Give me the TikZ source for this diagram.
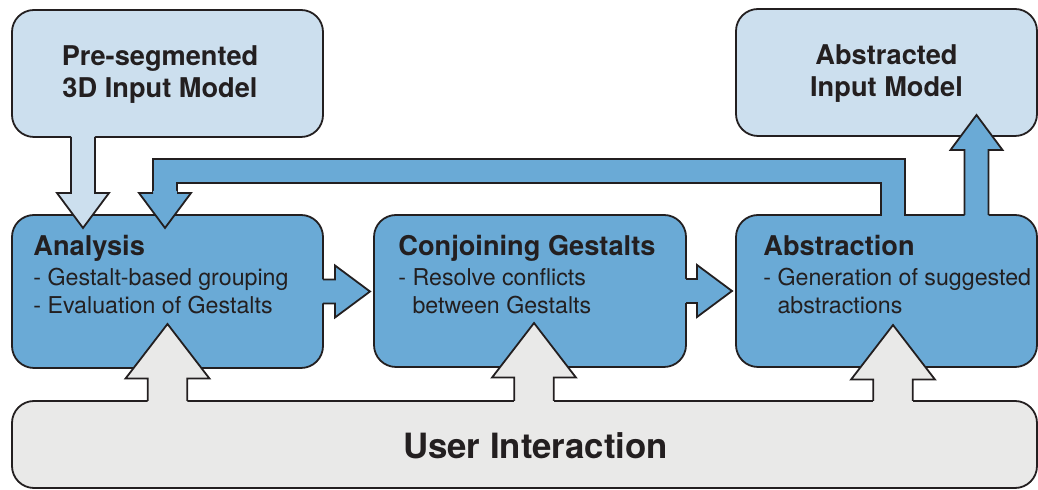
\documentclass[tikz,border=0pt]{standalone}
\usepackage{fontspec}
\setmainfont{TeX Gyre Heros}
\usetikzlibrary{calc}
\definecolor{paleBlue}{RGB}{204,223,238}
\definecolor{midBlue}{RGB}{106,170,214}
\definecolor{paleGray}{RGB}{233,233,232}
\definecolor{inkColor}{RGB}{35,31,32}
\newcommand{\headFont}{\fontsize{13.6}{16}\selectfont\bfseries}
\newcommand{\fatArrow}[3]{%%
  %% Head base, and a base point pushed back into the source box.
  \coordinate (hb) at ($(#2)!\headl!(#1)$);
  \coordinate (bb) at ($(#1)!-1pt!(#2)$);
  %% Fill, then the outline without its base.
  \fill[#3] ($(bb)!\shaftw!90:(#2)$) -- ($(hb)!\shaftw!90:(#2)$) -- ($(hb)!\headw!90:(#2)$) -- (#2)
    -- ($(hb)!\headw!-90:(#2)$) -- ($(hb)!\shaftw!-90:(#2)$) -- ($(bb)!\shaftw!-90:(#2)$) -- cycle;
  \draw[edgeStyle] ($(#1)!\shaftw!90:(#2)$) -- ($(hb)!\shaftw!90:(#2)$) -- ($(hb)!\headw!90:(#2)$) -- (#2)
    -- ($(hb)!\headw!-90:(#2)$) -- ($(hb)!\shaftw!-90:(#2)$) -- ($(#1)!\shaftw!-90:(#2)$);
}
\newcommand{\smallArrows}{\def\shaftw{6pt}\def\headw{13pt}\def\headl{17.5pt}}
\newcommand{\bigArrows}{\def\shaftw{9.9pt}\def\headw{21pt}\def\headl{27.3pt}}

\begin{document}
\begin{tikzpicture}[x=0.5pt,y=-0.5pt,%%
  boxStyle/.style={draw=inkColor,line width=0.9pt,rounded corners=11pt,inner sep=0pt,outer sep=0pt},%%
  inputBox/.style={boxStyle,fill=paleBlue},%%
  stageBox/.style={boxStyle,fill=midBlue},%%
  userBox/.style={boxStyle,fill=paleGray},%%
  edgeStyle/.style={draw=inkColor,line width=0.9pt},%%
  titleText/.style={font=\headFont,align=center,text=inkColor,inner sep=0pt},%%
  stageText/.style={font=\fontsize{11.6}{14}\selectfont,align=left,anchor=north west,inner sep=0pt,text=inkColor},%%
  userText/.style={font=\fontsize{17.4}{20}\selectfont\bfseries,text=inkColor,inner sep=0pt}%%
]
\useasboundingbox (0,0) rectangle (1038,490);
%% The boxes.
\node[inputBox,minimum width=155.5pt,minimum height=63.5pt] (input) at (167.5,73.5) {};
\node[inputBox,minimum width=150.5pt,minimum height=63.5pt] (output) at (886.5,72.5) {};
\node[stageBox,minimum width=155.5pt,minimum height=76.5pt] (analysis) at (167.5,291.5) {};
\node[stageBox,minimum width=156pt,minimum height=76pt] (conjoin) at (530,291) {};
\node[stageBox,minimum width=150.5pt,minimum height=76pt] (abstraction) at (886.5,291) {};
\node[userBox,minimum width=512.5pt,minimum height=43.5pt] (user) at (524.5,444.5) {};
%% The texts.
\node[titleText] (inputLabel) at ($(input.center)+(-7.5,1)$) {Pre-segmented\\3D Input Model};
\node[titleText] (outputLabel) at ($(output.center)+(0,1.5)$) {Abstracted\\Input Model};
\node[stageText] (analysisLabel) at ($(analysis.north west)+(21,20)$)
  {{\headFont Analysis}\\[1pt]- Gestalt-based grouping\\- Evaluation of Gestalts};
\node[stageText] (conjoinLabel) at ($(conjoin.north west)+(24,20)$)
  {{\headFont Conjoining Gestalts}\\[1pt]- Resolve conflicts\\\phantom{- }between Gestalts};
\node[stageText] (abstractionLabel) at ($(abstraction.north west)+(27,20)$)
  {{\headFont Abstraction}\\[1pt]- Generation of suggested\\\phantom{- }abstractions};
\node[userText] (userLabel) at ($(user.center)+(11,1)$) {User Interaction};
%% The feedback loop from Abstraction back to Analysis.
\coordinate (loopStart) at ($(abstraction.north)+(6.5,0)$);
\coordinate (loopCorner) at ($(analysis.north)+(-2.5,-44)$);
\coordinate (loopHead) at ($(analysis.north)+(-2.5,-22)$);
\coordinate (loopTip) at ($(analysis.north)+(-2.5,13)$);
\draw[line width=12.9pt,inkColor] (loopStart) |- (loopCorner) -- (loopHead);
\draw[line width=11.1pt,midBlue] ($(loopStart)+(0,2)$) |- (loopCorner) -- (loopHead);
\smallArrows
\fatArrow{loopHead}{loopTip}{midBlue}
%% Input model into Analysis.
\coordinate (inBase) at ($(input.south)+(-84.5,0)$);
\coordinate (inTip) at ($(analysis.north)+(-84.5,13)$);
\fatArrow{inBase}{inTip}{paleBlue}
%% Abstraction up to the abstracted model.
\coordinate (outBase) at ($(abstraction.north)+(90,0)$);
\coordinate (outTip) at ($(output.south)+(90,-21)$);
\fatArrow{outBase}{outTip}{midBlue}
%% Stage to stage.
\coordinate (stepTipA) at ($(analysis.east -| conjoin.west)+(-4,0)$);
\coordinate (stepTipB) at ($(conjoin.east -| abstraction.west)+(-4,0)$);
\fatArrow{analysis.east}{stepTipA}{midBlue}
\fatArrow{conjoin.east}{stepTipB}{midBlue}
%% User interaction into every stage.
\bigArrows
\coordinate (userTipA) at ($(analysis.south)+(0,-44)$);
\coordinate (userTipB) at ($(conjoin.south)+(4,-44)$);
\coordinate (userTipC) at ($(abstraction.south)+(6.5,-42)$);
\coordinate (userBaseA) at (userTipA |- user.north);
\coordinate (userBaseB) at (userTipB |- user.north);
\coordinate (userBaseC) at (userTipC |- user.north);
\fatArrow{userBaseA}{userTipA}{paleGray}
\fatArrow{userBaseB}{userTipB}{paleGray}
\fatArrow{userBaseC}{userTipC}{paleGray}
\end{tikzpicture}
\end{document}
